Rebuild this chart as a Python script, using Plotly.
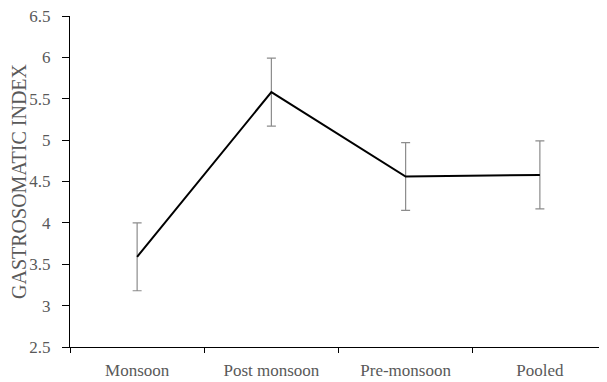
import plotly.graph_objects as go

categories = ["Monsoon", "Post monsoon", "Pre-monsoon", "Pooled"]
gsi_values = [3.59, 5.58, 4.56, 4.58]
gsi_errors = [0.41, 0.41, 0.41, 0.41]
y_ticks = [2.5, 3, 3.5, 4, 4.5, 5, 5.5, 6, 6.5]
y_ticklabels = ["2.5", "3", "3.5", "4", "4.5", "5", "5.5", "6", "6.5"]

font_family = "Liberation Serif, Times New Roman, serif"

fig = go.Figure()
fig.add_trace(go.Scatter(
    x=categories,
    y=gsi_values,
    mode="lines",
    line=dict(color="#000000", width=2),
    error_y=dict(type="data", array=gsi_errors, visible=True,
                 color="#8c8c8c", thickness=1.2, width=4.5),
    showlegend=False,
))

fig.update_layout(
    width=607, height=382,
    margin=dict(l=62, r=8, t=8, b=43, autoexpand=False),
    paper_bgcolor="white", plot_bgcolor="white",
    font=dict(family=font_family, color="#595959", size=15),
    xaxis=dict(
        type="category",
        range=[-0.5, 3.5],
        automargin=False,
        showline=True, linecolor="#000000", linewidth=1.2,
        ticks="outside", tickson="boundaries", ticklen=5, tickcolor="#000000",
        tickwidth=1,
        ticklabelstandoff=7,
        showgrid=False, zeroline=False,
        tickfont=dict(family=font_family, size=17, color="#595959"),
    ),
    yaxis=dict(
        range=[2.5, 6.5],
        automargin=False,
        tickvals=y_ticks, ticktext=y_ticklabels,
        showline=True, linecolor="#000000", linewidth=1.2,
        ticks="outside", ticklen=7, tickcolor="#000000", tickwidth=1,
        ticklabelstandoff=8,
        ticklabeloverflow="allow",
        showgrid=False, zeroline=False,
        tickfont=dict(family=font_family, size=17, color="#595959"),
        title=dict(text="GASTROSOMATIC INDEX", standoff=6,
                   font=dict(family=font_family, size=20, color="#595959")),
    ),
)

fig.write_html("out.html")
